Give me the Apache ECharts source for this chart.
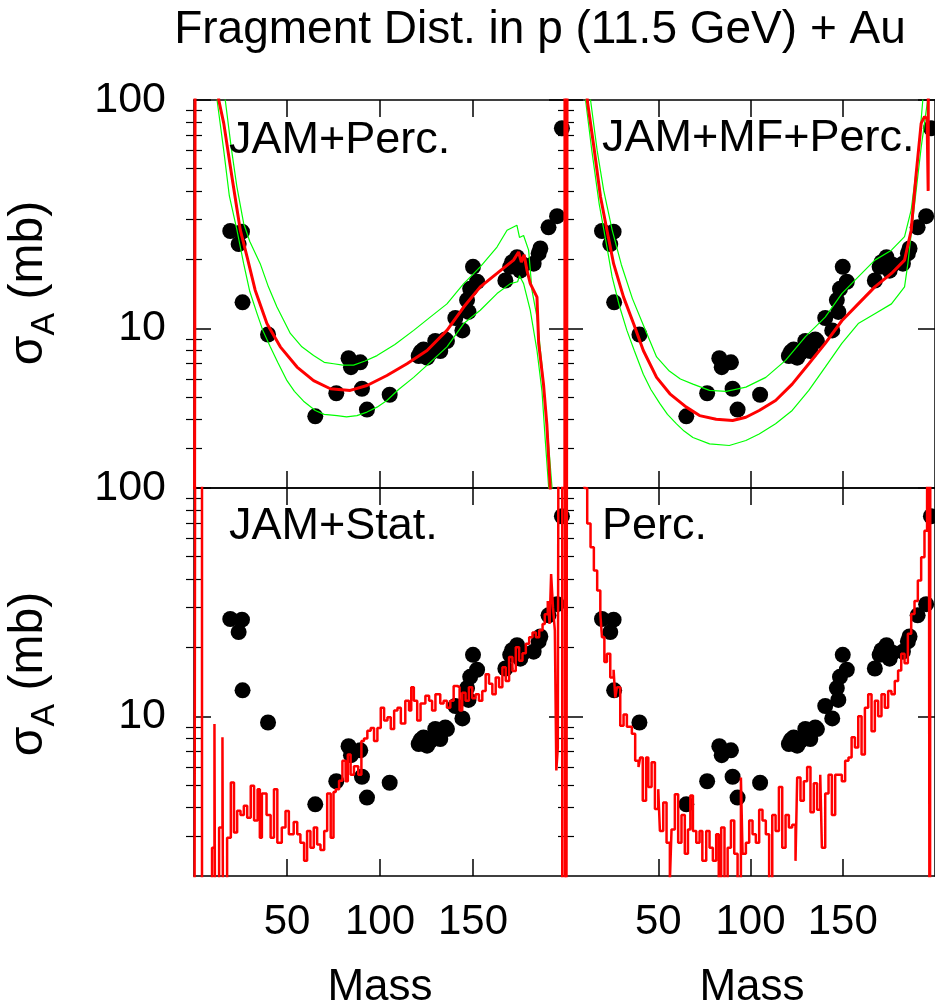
<!DOCTYPE html>
<html><head><meta charset="utf-8">
<script src="https://cdn.jsdelivr.net/npm/echarts@6/dist/echarts.min.js"></script>
<style>html,body{margin:0;padding:0;background:#fff}#c{width:935px;height:1006px}</style>
</head><body><div id="c"></div>
<script>
// ---------- data ----------
const massTicks = [50, 100, 150];
const yMajorTicks = [10, 100];
const yMinorTicks = [3, 4, 5, 6, 7, 8, 9, 20, 30, 40, 50, 60, 70, 80, 90];
const panelTitles = ['JAM+Perc.', 'JAM+MF+Perc.', 'JAM+Stat.', 'Perc.'];

// experimental data [mass, sigma(mb)]
const expData = [[19.5,26.7],[25.8,26.5],[24,23.4],[26.1,13.0],[39.8,9.4],[65.2,4.12],[76.5,5.2],[83.1,7.4],[89.4,7.1],[84.4,6.76],[90.3,5.44],[93,4.41],[105.2,5.12],
 [120.8,7.57],[123.4,8.09],[125.3,7.44],[129.7,8.81],[132.4,7.96],[135.1,8.95],[136,8.8],[127,7.8],[122,7.9],
 [140.5,11.1],[144.3,9.8],[146.8,13.3],[147.6,11.8],[148.5,14.9],[152.2,16],[150,18.6],
 [167.4,16.2],[170,18.6],[173.7,20.5],[175.4,17.9],[171,19.5],[177,19],[182.6,19.2],[185.3,21.3],[186.2,22.4],[190.6,27.7],[195.2,31],[197.8,75.2]];

// JAM+Perc.
const jpRed = [[0,0.01],[1,1e5],[8,800],[13.3,100],[16,79],[20.4,46],[24.9,26.9],[28.5,20.6],[32.9,14.7],[39.2,10.5],[46.4,8.3],[55.4,6.77],[64.3,5.9],[73.3,5.44],[84,5.35],[93,5.62],[103.7,6.22],[114.5,7.0],[125.3,8.0],[136,9.8],[145,12.4],[153.9,15.2],[162.9,17.4],[171.8,19.9],[174.5,21.6],[176,19.5],[177.5,21],[179,18],[180.8,15.7],[184.4,13.7],[185.3,8.6],[187.9,5.7],[189.7,3.8],[191.5,2],[193,0.5],[199.3,0.01],[199.5,1e5]];
const jpUp = [[0,0.01],[1,1e5],[10,600],[16.8,100],[20,62],[23,42],[26.7,28.8],[30,24],[35.6,19.2],[40,15.2],[44.6,12.4],[51.8,9.5],[58,8.3],[64.3,7.6],[70,7.1],[75.1,7.0],[80,6.9],[85.8,6.9],[92,7.2],[98.4,7.6],[108,8.5],[118.1,9.8],[127,11.2],[136,12.8],[145,15.7],[153.9,18.6],[162.9,22.7],[168.3,26.9],[173.6,28.3],[175,25],[177.2,25.5],[179.9,22],[181.7,14.7],[184.4,11.2],[187,7],[189.8,3.8],[192.5,2],[194,0.5],[199.6,0.01],[199.8,1e5]];
const jpLow = [[0,0.01],[1,1e5],[8,500],[12.4,100],[16,60],[19,38],[23.1,26.9],[26.7,19.2],[30,14.5],[33.9,11.6],[37,9.8],[41,8.3],[45,7.1],[50,5.9],[54,5.3],[58.9,4.8],[65.2,4.37],[70,4.2],[76.9,4.15],[82,4.1],[87.6,4.15],[93,4.3],[98.4,4.52],[103.7,4.83],[110,5.4],[118.1,6.1],[127,7.1],[136,8.3],[145,10.5],[153.9,12],[162.9,14.2],[170.1,15.7],[174,16],[175,17],[177.2,15.7],[180.8,12],[184.4,8],[187.1,5.3],[188.9,3.2],[190.7,2],[192,0.5]];

// JAM+MF+Perc.
const jmRed = [[0,0.01],[1,1e5],[7,600],[11.5,100],[15.1,62.4],[18.7,37.7],[22.2,26.9],[25.8,19.2],[31.2,13.7],[36.6,10.5],[41.9,8.0],[49.1,6.1],[56.3,5.17],[65.2,4.52],[72.4,4.15],[81.4,4.0],[90.3,3.95],[97.5,4.08],[104.7,4.37],[113.6,4.83],[122.6,5.7],[131.6,7.0],[140.5,8.6],[149.5,10.8],[158.4,12.8],[167.4,15.2],[176.4,17.4],[183.5,19.9],[187.1,26.9],[189.8,47.6],[192.5,79],[194.3,84.5],[195.7,83],[196.3,40],[196.8,1e5]];
const jmUp = [[0,0.01],[1,1e5],[9,500],[13.3,100],[16.9,60],[20.4,40.3],[25,27],[30,19],[36,13.5],[42,10.3],[49.1,7.5],[56,6.5],[62,6.0],[68.8,5.7],[77.8,5.35],[86.8,5.3],[97.5,5.53],[108.3,6.1],[119,7.24],[129.8,9.2],[140.5,11.2],[149.5,14.2],[158.4,16.8],[167.4,19.9],[176.4,22],[183.5,25.2],[187.1,33],[190.7,56],[193.4,100],[195,300],[197.5,1e5]];
const jmLow = [[0,0.01],[1,1e5],[6,400],[10.6,100],[14,60],[18,35],[22.2,22.7],[25,16.8],[29,12.5],[33,9.8],[37,8.0],[41.9,6.3],[46,5.4],[50.9,4.68],[55,4.2],[59.9,3.82],[64,3.55],[68.8,3.33],[77.8,3.12],[88.5,3.07],[97.5,3.23],[104.7,3.45],[113.6,3.82],[122.6,4.37],[131.6,5.35],[140.5,6.76],[149.5,8.6],[158.4,10.5],[167.4,11.6],[176.4,12.8],[183.5,15.2],[185.3,19.2],[187.1,26],[189.8,40.3],[192.5,62],[194.3,79],[196,100],[197.5,1e5]];

// JAM+Stat. (histogram, value holds from x to next x)
const jsRed = [[0,0.01],[1,1e5],[4.3,0.01],[9.7,2.66],[11,9.25],[12,0.01],[13.5,3.26],[15.3,8.1],[16.3,0.01],[17.8,2.94],[19.8,5.14],[21.5,3.1],[23.2,3.86],[25,3.7],[26.8,4.06],[28.6,3.6],[30.5,4.97],[32.3,3.5],[34.2,4.8],[35.4,2.94],[36.5,4.6],[39,3.7],[41.2,2.94],[43,4.8],[44.8,2.8],[47.2,3.26],[49.2,3.85],[51,3.05],[53.6,3.45],[55.5,3.05],[57.2,2.8],[59.2,2.33],[60.8,3.15],[62.6,2.66],[64.4,3.26],[66.2,2.75],[68,2.6],[70,3.15],[71.6,4.6],[73.5,2.94],[75,4.66],[76.2,4.8],[78,5.22],[79.8,6.4],[81.5,5.2],[82.7,6.8],[84.2,5.55],[86,6.05],[88.3,5.55],[90,7.8],[91.4,8.0],[93.2,8.65],[95,8.9],[96.8,7.8],[98.6,8.9],[100.4,10.9],[102.2,9.6],[104,9.9],[105.8,8.8],[107.6,10.6],[109.4,10.9],[111.2,9.3],[113.6,11.7],[115.6,10.6],[116.8,13.4],[118.2,11.7],[120,9.6],[121.8,11.4],[124.4,12.3],[126.4,11.7],[128,10.6],[129.8,12.5],[132.4,11.4],[134.2,11.7],[136,10.9],[137.8,11.7],[139.6,13.6],[141.6,13.4],[142.8,10.6],[144.2,12.7],[146,11.7],[147.8,13.4],[149.6,12],[151.4,12.5],[153.2,11.7],[155,12.9],[156.8,15.3],[158.6,13.9],[160.4,12.5],[162.2,14.8],[164,13.4],[165.8,16.4],[167.6,14.3],[169.4,18.2],[171.2,15.8],[173,20.1],[174.8,17.5],[176.6,18.9],[178.4,20.8],[180.2,22.2],[182,23.3],[183.8,22.2],[185.6,23.8],[187.4,25.4],[188.6,28],[190.2,32],[191.2,25.4],[192,42],[193,30],[194,23.8],[194.8,5.8],[195.6,7.3],[196.6,1e5],[198,0.01],[199.5,1e5],[200,1e5]];

// Perc. (histogram)
const pcRed = [[0,0.01],[0.8,1e5],[8,300],[10,100],[11.5,70],[13.3,55],[15.1,43.5],[16.9,35.6],[18.6,28.1],[19.5,22.2],[20.8,17.3],[22.2,18.8],[24,14.8],[25.8,16],[26.7,12.1],[27.6,13.4],[29.4,9.1],[31.2,10.2],[33,9.0],[35.7,8.4],[37.5,6.4],[39.3,6.0],[40.2,6.6],[41.6,4.27],[43.4,6.6],[44.6,4.9],[46.4,6.3],[48.2,3.93],[50,4.8],[50.9,3.15],[52.7,4.2],[54.5,2.8],[56.3,1.9],[57.2,3.2],[59,4.56],[60.8,2.8],[62.6,3.7],[64.4,2.5],[66.1,3.2],[67.4,4.5],[68.8,3.15],[70.6,2.8],[72.4,3.15],[73.9,2.33],[76,3.15],[77.8,2.66],[79.6,2.33],[81.4,3.05],[82.8,1.9],[84.1,3.26],[85.9,1.8],[87.6,2.66],[89.4,3.5],[91.2,2.5],[93,1.95],[94.8,5.4],[95.7,2.5],[97.5,2.8],[99.3,3.5],[101.1,3.05],[102.9,2.8],[104.7,3.9],[106.5,3.5],[108.3,3.05],[110.1,1.9],[111.8,3.7],[113.6,3.15],[115.4,4.9],[117.2,2.66],[119,3.7],[120.8,3.26],[122.6,3.35],[124.4,2.33],[125.3,5.4],[127.1,4.27],[128.9,5.2],[130.7,6.0],[132.5,3.8],[134.3,5.1],[136.1,3.9],[137.8,5.55],[138.7,2.66],[140.5,4.6],[142.3,5.55],[144.1,3.7],[145.9,5.55],[147.7,5.55],[149.5,5.2],[151.3,6.4],[153.1,6.6],[154.8,8.1],[156.6,7.3],[158.4,10.0],[160.2,6.8],[162,10.9],[163.8,12.5],[165.6,8.6],[167.4,11.7],[169.2,10.0],[171,12.5],[172.8,10.9],[174.6,12.9],[176.4,12.5],[178.2,14.3],[180,15.9],[181.7,18.8],[183.5,17.1],[185.3,23],[187.1,28.1],[188.9,32],[190.7,39.4],[192.5,49.8],[194.3,65],[195.7,77],[196.4,1e5],[197.2,0.01],[197.6,1e5],[200,1e5]];

// ---------- chart ----------
const FONT = 'Liberation Sans, Arial, Helvetica, sans-serif';
const grids = [
  {left:194, top:100, width:372, height:388},
  {left:566, top:100, width:372, height:388},
  {left:194, top:488, width:372, height:388},
  {left:566, top:488, width:372, height:388}
];
const black = '#000';
const xAxes = [], yAxes = [], series = [];
grids.forEach((g, gi) => {
  const isBottom = gi >= 2, isLeft = gi % 2 === 0;
  ['bottom','top'].forEach(pos => {
    const showLab = pos === 'bottom' && isBottom;
    xAxes.push({
      gridIndex: gi, type:'value', min:0, max:200, position:pos,
      axisLine:{show:true, onZero:false, lineStyle:{color:black, width:1.5}},
      axisTick:{show:true, inside:true, length:17, customValues:massTicks, lineStyle:{color:black, width:1.5}},
      axisLabel:{show:showLab, customValues:massTicks, margin:25, color:black, fontSize:42, fontFamily:FONT},
      splitLine:{show:false}
    });
  });
  ['left','right'].forEach(pos => {
    const showLab = pos === 'left' && isLeft;
    yAxes.push({
      gridIndex: gi, type:'log', logBase:10, min:2, max:100, position:pos,
      axisLine:{show:true, onZero:false, lineStyle:{color:black, width:1.5}},
      axisTick:{show:true, inside:true, length:17, customValues:yMajorTicks, lineStyle:{color:black, width:1.5}},
      axisLabel:{show:showLab, customValues:yMajorTicks, margin:28, color:black, fontSize:43, fontFamily:FONT},
      splitLine:{show:false}
    });
    yAxes.push({
      gridIndex: gi, type:'log', logBase:10, min:2, max:100, position:pos,
      axisLine:{show:false},
      axisTick:{show:true, inside:true, length:8, customValues:yMinorTicks, lineStyle:{color:black, width:1.2}},
      axisLabel:{show:false},
      splitLine:{show:false}
    });
  });
  series.push({
    type:'scatter', xAxisIndex: gi*2, yAxisIndex: gi*4, data: expData,
    symbol:'circle', symbolSize:16, itemStyle:{color:black, opacity:1}, z:2, clip:false, silent:true
  });
});

function lineSeries(gi, data, color, width, step) {
  return {
    type:'line', xAxisIndex: gi*2, yAxisIndex: gi*4, data, step: step || false,
    showSymbol:false, symbol:'none', clip:true, z:3, silent:true,
    lineStyle:{color, width, opacity:1}
  };
}
const RED = '#ff0000', GREEN = '#00ff00';
series.push(lineSeries(0, jpUp, GREEN, 1.2));
series.push(lineSeries(0, jpLow, GREEN, 1.2));
series.push(lineSeries(0, jpRed, RED, 3));
series.push(lineSeries(1, jmUp, GREEN, 1.2));
series.push(lineSeries(1, jmLow, GREEN, 1.2));
series.push(lineSeries(1, jmRed, RED, 3));
series.push(lineSeries(2, jsRed, RED, 2.5, 'end'));
series.push(lineSeries(3, pcRed, RED, 2.5, 'end'));

const panelPos = [[229,140.5],[602,139],[229,527],[602,527]];
const graphics = [
  {type:'text', x:540, y:30, style:{text:'Fragment Dist. in p (11.5 GeV) + Au', font:'46px ' + FONT, fill:black, textAlign:'center', textVerticalAlign:'middle'}},
  {type:'text', x:380, y:988, style:{text:'Mass', font:'44px ' + FONT, fill:black, textAlign:'center', textVerticalAlign:'middle'}},
  {type:'text', x:752, y:988, style:{text:'Mass', font:'44px ' + FONT, fill:black, textAlign:'center', textVerticalAlign:'middle'}}
];
panelTitles.forEach((t, i) => {
  graphics.push({type:'text', x:panelPos[i][0], y:panelPos[i][1], z:10,
    style:{text:t, font:'45px ' + FONT, fill:black, textAlign:'left', textVerticalAlign:'middle'}});
});
[283, 674].forEach(cy => {
  graphics.push({type:'text', x:45, y:cy, rotation:Math.PI/2,
    style:{text:'{a|σ}{b|A}{a| (mb)}', fill:black, textAlign:'center', textVerticalAlign:'middle',
      rich:{a:{fontSize:48, fontFamily:FONT, lineHeight:48, verticalAlign:'top', fill:black},
            b:{fontSize:34, fontFamily:FONT, lineHeight:80, fill:black}}}});
});

const chart = echarts.init(document.getElementById('c'), null, {renderer:'canvas'});
chart.setOption({
  animation:false, backgroundColor:'#fff',
  grid: grids, xAxis: xAxes, yAxis: yAxes, series, graphic: graphics
});
</script></body></html>
